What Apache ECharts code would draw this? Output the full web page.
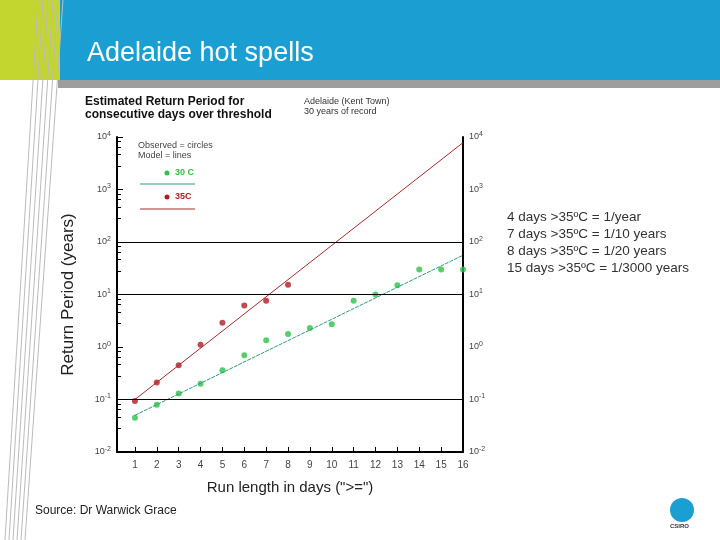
<!DOCTYPE html>
<html>
<head>
<meta charset="utf-8">
<script src="https://cdn.jsdelivr.net/npm/echarts@6/dist/echarts.min.js"></script>
<style>html,body{margin:0;padding:0;background:#fff}#main{width:720px;height:540px}</style>
</head>
<body>
<div id="main"></div>
<script>
// run length (days)
var days = [1, 2, 3, 4, 5, 6, 7, 8, 9, 10, 11, 12, 13, 14, 15, 16];
// observed return periods (years)
var obs35 = [0.094, 0.21, 0.45, 1.1, 2.9, 6.2, 7.6, 15.3];
var obs30 = [0.045, 0.079, 0.13, 0.20, 0.36, 0.70, 1.35, 1.77, 2.3, 2.7, 7.6, 10, 15, 30, 30, 30];
// model lines (end points, straight on log scale)
var model35 = [[1, 0.1], [16, 7800]];
var model30 = [[1, 0.05], [16, 56]];
var notes = ['4 days >35ºC = 1/year', '7 days >35ºC = 1/10 years', '8 days >35ºC = 1/20 years', '15 days >35ºC = 1/3000 years'];

var chart = echarts.init(document.getElementById('main'));

function pow10(v) {
    var e = Math.round(Math.log(v) / Math.LN10);
    return '10{s|' + e + '}';
}
var tickRich = { s: { fontSize: 7, verticalAlign: 'top', padding: [0, 0, 6, 0], color: '#444' } };

function yAxisCfg(pos) {
    var ax = {
        type: 'log', logBase: 10, min: 0.01, max: 10000, position: pos,
        axisLine: { show: true, lineStyle: { color: '#000', width: 2 } },
        axisTick: { show: pos == 'left', inside: true, length: 6, lineStyle: { color: '#000' } },
        minorTick: { show: pos == 'left', splitNumber: 5, length: 4, lineStyle: { color: '#000' } },
        axisLabel: { formatter: pow10, rich: tickRich, color: '#444', fontSize: 9, fontFamily: 'Liberation Sans', margin: 6 },
        splitLine: { show: false }
    };
    if (pos == 'left') {
        ax.name = 'Return Period (years)';
        ax.nameLocation = 'middle';
        ax.nameGap = 40;
        ax.nameTextStyle = { fontSize: 17, color: '#222', fontFamily: 'Liberation Sans' };
    }
    return ax;
}

var option = {
    animation: false,
    grid: { left: 117, right: 257, top: 137, bottom: 88 },
    xAxis: {
        type: 'value', min: 0.18, max: 16,
        axisLine: { lineStyle: { color: '#000', width: 2 } },
        axisTick: { show: true, inside: true, customValues: days, length: 5, lineStyle: { color: '#000' } },
        axisLabel: { customValues: days, color: '#444', fontSize: 10, fontFamily: 'Liberation Sans', margin: 8 },
        splitLine: { show: false },
        name: 'Run length in days (">=")', nameLocation: 'middle', nameGap: 28,
        nameTextStyle: { fontSize: 15, color: '#222', fontFamily: 'Liberation Sans' }
    },
    yAxis: [yAxisCfg('left'), yAxisCfg('right')],
    series: [
        { type: 'line', data: model35, symbol: 'none', lineStyle: { color: '#a52a2a', width: 1 }, yAxisIndex: 0 },
        { type: 'line', data: model30, symbol: 'none', lineStyle: { color: '#2a9d7a', width: 1, type: [4, 1] }, yAxisIndex: 0 },
        { type: 'scatter', data: obs35.map(function (v, i) { return [days[i], v]; }), symbolSize: 6, itemStyle: { color: '#b01c24' } },
        { type: 'scatter', data: obs30.map(function (v, i) { return [days[i], v]; }), symbolSize: 6, itemStyle: { color: '#2cc24a' } },
        { type: 'line', symbol: 'none', data: [],
          markLine: { silent: true, symbol: 'none', label: { show: false },
            lineStyle: { color: '#000', width: 1, type: 'solid' },
            data: [{ yAxis: 100 }, { yAxis: 10 }, { yAxis: 0.1 }] } }
    ],
    graphic: [
        { type: 'rect', shape: { x: 0, y: 0, width: 62, height: 80 }, style: { fill: '#c3d62f' } },
        { type: 'rect', shape: { x: 60, y: 0, width: 660, height: 80 }, style: { fill: '#1b9fd3' } },
        { type: 'rect', shape: { x: 58, y: 80, width: 662, height: 8 }, style: { fill: '#9e9e9e' } }
    ].concat([0, 1, 2, 3, 4, 5].map(function (i) {
        return { type: 'line', shape: { x1: 38 + 5 * i, y1: 0, x2: 5 + 4 * i, y2: 540 }, style: { stroke: '#bbbbbb', lineWidth: 1 } };
    })).concat([
        { type: 'text', left: 87, top: 40, style: { text: 'Adelaide hot spells', fill: '#fff', fontSize: 27, fontFamily: 'Liberation Sans' } },
        { type: 'text', left: 85, top: 95, style: { text: 'Estimated Return Period for\nconsecutive days over threshold', fill: '#111', fontSize: 12, lineHeight: 13, fontWeight: 'bold', fontFamily: 'Liberation Sans' } },
        { type: 'text', left: 304, top: 97, style: { text: 'Adelaide (Kent Town)\n30 years of record', fill: '#333', fontSize: 9, lineHeight: 10, fontFamily: 'Liberation Sans' } },
        { type: 'text', left: 138, top: 141, style: { text: 'Observed = circles\nModel = lines', fill: '#444', fontSize: 9, lineHeight: 10, fontFamily: 'Liberation Sans' } },
        { type: 'circle', shape: { cx: 167, cy: 173, r: 2.5 }, style: { fill: '#2cc24a' } },
        { type: 'text', left: 175, top: 168, style: { text: '30 C', fill: '#2cc24a', fontSize: 9, fontWeight: 'bold', fontFamily: 'Liberation Sans' } },
        { type: 'line', shape: { x1: 140, y1: 184, x2: 195, y2: 184 }, style: { stroke: '#2a9d7a', lineWidth: 1 } },
        { type: 'circle', shape: { cx: 167, cy: 197, r: 2.5 }, style: { fill: '#b01c24' } },
        { type: 'text', left: 175, top: 192, style: { text: '35C', fill: '#b01c24', fontSize: 9, fontWeight: 'bold', fontFamily: 'Liberation Sans' } },
        { type: 'line', shape: { x1: 140, y1: 209, x2: 195, y2: 209 }, style: { stroke: '#a52a2a', lineWidth: 1 } },
        { type: 'text', left: 507, top: 209, style: { text: notes.join('\n'), fill: '#333', fontSize: 13.5, lineHeight: 17, fontFamily: 'Liberation Sans' } },
        { type: 'text', left: 35, top: 505, style: { text: 'Source: Dr Warwick Grace', fill: '#222', fontSize: 12, fontFamily: 'Liberation Sans' } },
        { type: 'circle', shape: { cx: 682, cy: 510, r: 12 }, style: { fill: '#1b9fd3' } },
        { type: 'text', left: 670, top: 523, style: { text: 'CSIRO', fill: '#333', fontSize: 6, fontWeight: 'bold', fontFamily: 'Liberation Sans' } }
    ])
};
chart.setOption(option);
</script>
</body>
</html>
